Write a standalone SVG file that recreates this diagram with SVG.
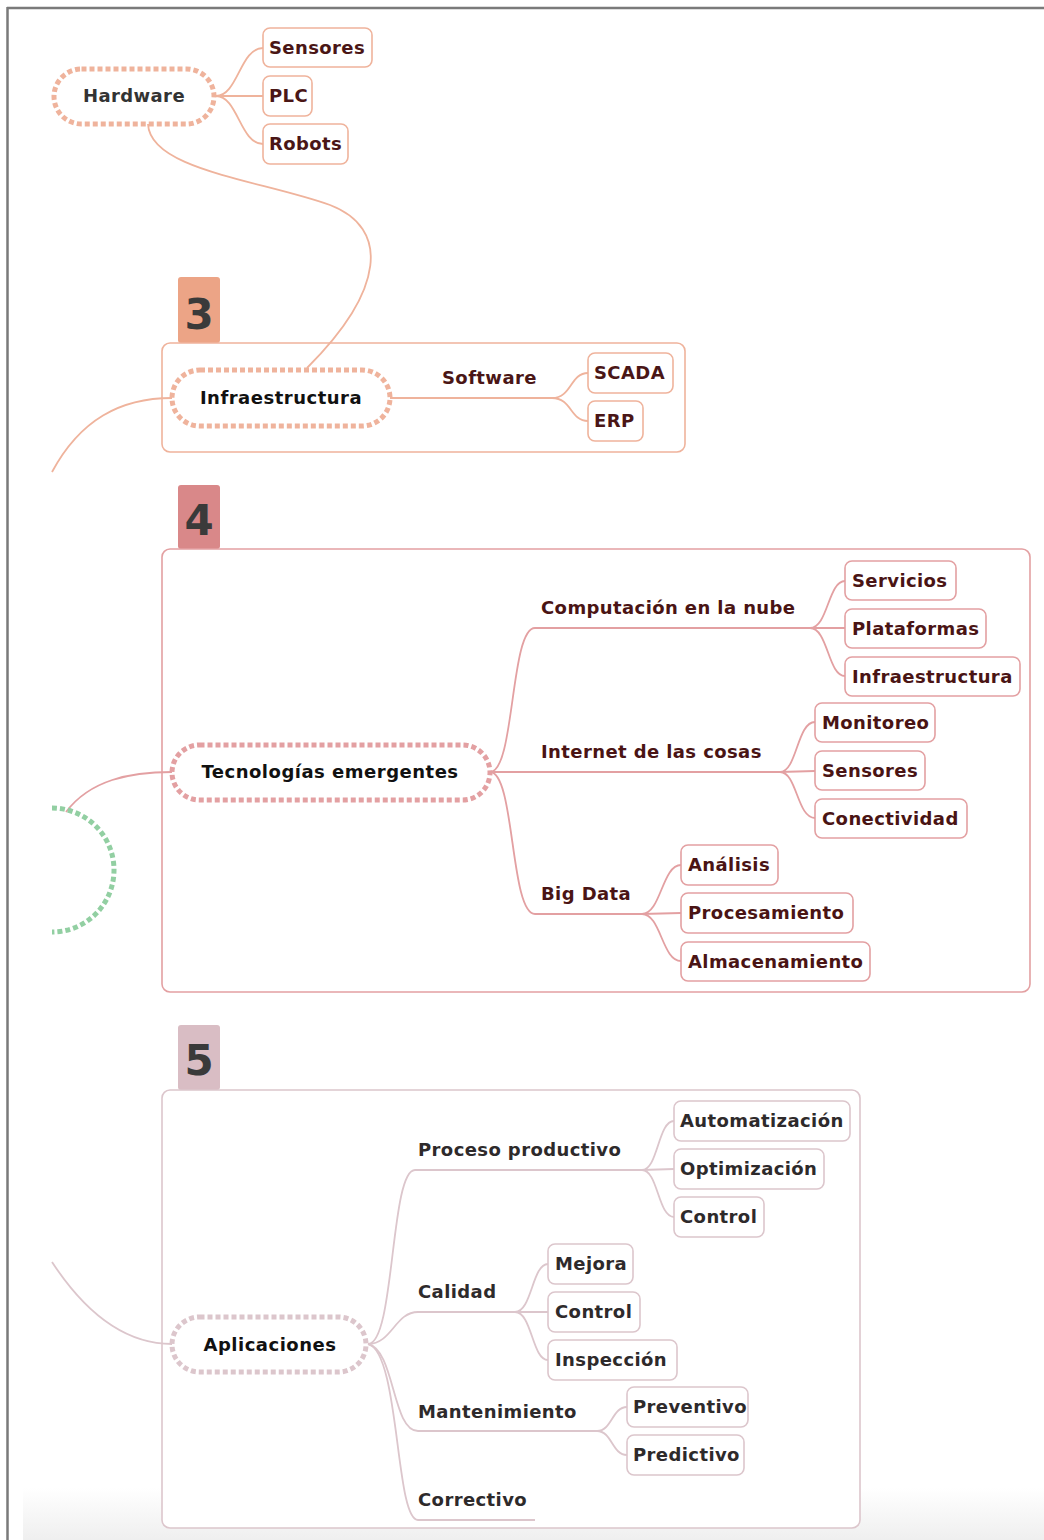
<svg xmlns="http://www.w3.org/2000/svg" width="1044" height="1540" viewBox="0 0 1044 1540">
  <defs>
    <linearGradient id="floor" x1="0" y1="0" x2="0" y2="1">
      <stop offset="0" stop-color="#ffffff"/>
      <stop offset="1" stop-color="#efefef"/>
    </linearGradient>
    <style>
      text { font-family: "DejaVu Sans", Verdana, sans-serif; font-weight: bold; font-size: 18px; letter-spacing: 0.4px; }
      .num { font-size: 42px; fill: #3a3a3a; letter-spacing: 0; }
      .hub { fill: #111111; letter-spacing: 0.5px; }
      .s3 text { fill: #4a1616; }
      .s4 text { fill: #4a1414; }
      .s5 text { fill: #2e2a2b; }
      .pill { fill: #ffffff; stroke-width: 5; stroke-dasharray: 5 3; }
      .leaf { fill: #ffffff; stroke-width: 1.6; }
      .frame { fill: #ffffff; stroke-width: 1.6; }
      .c3 { stroke: #efb39c; }
      .c4 { stroke: #e3a0a2; }
      .c5 { stroke: #dcc6cc; }
      #links path { fill: none; stroke-width: 1.8; }
    </style>
  </defs>

  <!-- page -->
  <rect x="0" y="0" width="1044" height="1540" fill="#ffffff"/>
  <rect x="23" y="1488" width="1021" height="52" fill="url(#floor)"/>
  <line x1="7" y1="8" x2="1044" y2="8" stroke="#7a7a7a" stroke-width="2.5"/>
  <line x1="7.5" y1="7" x2="7.5" y2="1540" stroke="#7a7a7a" stroke-width="2.5"/>

  <!-- section frames and number tabs -->
  <g id="section-3">
    <rect x="178" y="277" width="42" height="66" rx="3" fill="#eca486"/>
    <text class="num" x="199" y="329" text-anchor="middle">3</text>
    <rect class="frame c3" x="162" y="343" width="523" height="109" rx="8"/>
  </g>
  <g id="section-4">
    <rect x="178" y="485" width="42" height="64" rx="3" fill="#d98889"/>
    <text class="num" x="199" y="535" text-anchor="middle">4</text>
    <rect class="frame c4" x="162" y="549" width="868" height="443" rx="8"/>
  </g>
  <g id="section-5">
    <rect x="178" y="1025" width="42" height="65" rx="3" fill="#d9bdc4"/>
    <text class="num" x="199" y="1075" text-anchor="middle">5</text>
    <rect class="frame c5" x="162" y="1090" width="698" height="438" rx="8"/>
  </g>

  <!-- connectors -->
  <g id="links">
    <!-- Hardware -->
    <path class="c3" d="M216,96 C238,96 240,48 263,48"/>
    <path class="c3" d="M216,96 L263,96"/>
    <path class="c3" d="M216,96 C238,96 240,144 263,144"/>
    <path class="c3" d="M148,124 C150,170 260,180 330,205 C390,228 385,290 307,368"/>
    <!-- Infraestructura -->
    <path class="c3" d="M52,472 C80,420 120,398 172,398"/>
    <path class="c3" d="M390,398 L552,398"/>
    <path class="c3" d="M552,398 C572,398 570,373 588,373"/>
    <path class="c3" d="M552,398 C572,398 570,421 588,421"/>
    <!-- Tecnologías emergentes -->
    <path class="c4" d="M66,812 C90,780 130,772 172,772"/>
    <path class="c4" d="M490,772 C515,772 510,628 535,628 L810,628"/>
    <path class="c4" d="M490,772 L780,772"/>
    <path class="c4" d="M490,772 C515,772 510,914 535,914 L642,914"/>
    <path class="c4" d="M810,628 C828,628 828,581 845,581"/>
    <path class="c4" d="M810,628 L845,628"/>
    <path class="c4" d="M810,628 C828,628 828,676 845,676"/>
    <path class="c4" d="M780,772 C797,772 797,722 815,722"/>
    <path class="c4" d="M780,772 L815,771"/>
    <path class="c4" d="M780,772 C797,772 797,818 815,818"/>
    <path class="c4" d="M642,914 C661,914 662,865 681,865"/>
    <path class="c4" d="M642,914 L681,913"/>
    <path class="c4" d="M642,914 C661,914 662,961 681,961"/>
    <!-- Aplicaciones -->
    <path class="c5" d="M52,1262 C90,1320 130,1344 172,1344"/>
    <path class="c5" d="M368,1344 C395,1344 390,1170 415,1170 L642,1170"/>
    <path class="c5" d="M368,1344 C392,1344 395,1312 418,1312 L515,1312"/>
    <path class="c5" d="M368,1344 C395,1350 392,1431 418,1431 L597,1431"/>
    <path class="c5" d="M368,1344 C400,1352 395,1520 418,1520 L535,1520"/>
    <path class="c5" d="M642,1170 C658,1170 658,1121 674,1121"/>
    <path class="c5" d="M642,1170 L674,1169"/>
    <path class="c5" d="M642,1170 C658,1170 658,1217 674,1217"/>
    <path class="c5" d="M515,1312 C532,1312 532,1264 548,1264"/>
    <path class="c5" d="M515,1312 L548,1312"/>
    <path class="c5" d="M515,1312 C532,1312 532,1360 548,1360"/>
    <path class="c5" d="M597,1431 C612,1431 612,1407 627,1407"/>
    <path class="c5" d="M597,1431 C612,1431 612,1455 627,1455"/>
  </g>

  <!-- green hub, partly off the page edge -->
  <g id="hub-green">
    <path d="M52,808 A62,62 0 0 1 52,932" fill="none" stroke="#92cfa2" stroke-width="5" stroke-dasharray="5 3"/>
  </g>

  <!-- Hardware -->
  <g id="hardware">
    <rect class="pill c3" x="54" y="69" width="160" height="55" rx="27.5"/>
    <text x="134" y="102" text-anchor="middle" fill="#333333">Hardware</text>
  </g>
  <g id="sensores-hw" class="s3">
    <rect class="leaf c3" x="263" y="28" width="109" height="39" rx="7"/>
    <text x="269" y="54">Sensores</text>
  </g>
  <g id="plc" class="s3">
    <rect class="leaf c3" x="263" y="76" width="49" height="40" rx="7"/>
    <text x="269" y="102">PLC</text>
  </g>
  <g id="robots" class="s3">
    <rect class="leaf c3" x="263" y="124" width="85" height="40" rx="7"/>
    <text x="269" y="150">Robots</text>
  </g>

  <!-- Infraestructura -->
  <g id="infraestructura">
    <rect class="pill c3" x="172" y="370" width="218" height="56" rx="28"/>
    <text class="hub" x="281" y="404" text-anchor="middle">Infraestructura</text>
  </g>
  <g id="software" class="s3">
    <text x="442" y="384">Software</text>
  </g>
  <g id="scada" class="s3">
    <rect class="leaf c3" x="588" y="353" width="85" height="40" rx="7"/>
    <text x="594" y="379">SCADA</text>
  </g>
  <g id="erp" class="s3">
    <rect class="leaf c3" x="588" y="401" width="55" height="40" rx="7"/>
    <text x="594" y="427">ERP</text>
  </g>

  <!-- Tecnologías emergentes -->
  <g id="tecnologias">
    <rect class="pill c4" x="172" y="745" width="318" height="55" rx="27.5"/>
    <text class="hub" x="330" y="778" text-anchor="middle">Tecnologías emergentes</text>
  </g>
  <g id="nube" class="s4"><text x="541" y="614">Computación en la nube</text></g>
  <g id="iot" class="s4"><text x="541" y="758">Internet de las cosas</text></g>
  <g id="bigdata" class="s4"><text x="541" y="900">Big Data</text></g>
  <g id="servicios" class="s4">
    <rect class="leaf c4" x="845" y="561" width="111" height="39" rx="7"/>
    <text x="852" y="587">Servicios</text>
  </g>
  <g id="plataformas" class="s4">
    <rect class="leaf c4" x="845" y="609" width="141" height="39" rx="7"/>
    <text x="852" y="635">Plataformas</text>
  </g>
  <g id="infra-nube" class="s4">
    <rect class="leaf c4" x="845" y="657" width="175" height="39" rx="7"/>
    <text x="852" y="683">Infraestructura</text>
  </g>
  <g id="monitoreo" class="s4">
    <rect class="leaf c4" x="815" y="703" width="120" height="39" rx="7"/>
    <text x="822" y="729">Monitoreo</text>
  </g>
  <g id="sensores-iot" class="s4">
    <rect class="leaf c4" x="815" y="751" width="110" height="39" rx="7"/>
    <text x="822" y="777">Sensores</text>
  </g>
  <g id="conectividad" class="s4">
    <rect class="leaf c4" x="815" y="799" width="152" height="39" rx="7"/>
    <text x="822" y="825">Conectividad</text>
  </g>
  <g id="analisis" class="s4">
    <rect class="leaf c4" x="681" y="845" width="97" height="40" rx="7"/>
    <text x="688" y="871">Análisis</text>
  </g>
  <g id="procesamiento" class="s4">
    <rect class="leaf c4" x="681" y="893" width="172" height="40" rx="7"/>
    <text x="688" y="919">Procesamiento</text>
  </g>
  <g id="almacenamiento" class="s4">
    <rect class="leaf c4" x="681" y="942" width="189" height="39" rx="7"/>
    <text x="688" y="968">Almacenamiento</text>
  </g>

  <!-- Aplicaciones -->
  <g id="aplicaciones">
    <rect class="pill c5" x="172" y="1317" width="194" height="55" rx="27.5"/>
    <text class="hub" x="270" y="1351" text-anchor="middle">Aplicaciones</text>
  </g>
  <g id="proceso" class="s5"><text x="418" y="1156">Proceso productivo</text></g>
  <g id="calidad" class="s5"><text x="418" y="1298">Calidad</text></g>
  <g id="mantenimiento" class="s5"><text x="418" y="1418">Mantenimiento</text></g>
  <g id="correctivo" class="s5"><text x="418" y="1506">Correctivo</text></g>
  <g id="automatizacion" class="s5">
    <rect class="leaf c5" x="674" y="1101" width="176" height="40" rx="7"/>
    <text x="680" y="1127">Automatización</text>
  </g>
  <g id="optimizacion" class="s5">
    <rect class="leaf c5" x="674" y="1149" width="150" height="40" rx="7"/>
    <text x="680" y="1175">Optimización</text>
  </g>
  <g id="control-proceso" class="s5">
    <rect class="leaf c5" x="674" y="1197" width="90" height="40" rx="7"/>
    <text x="680" y="1223">Control</text>
  </g>
  <g id="mejora" class="s5">
    <rect class="leaf c5" x="548" y="1244" width="85" height="40" rx="7"/>
    <text x="555" y="1270">Mejora</text>
  </g>
  <g id="control-calidad" class="s5">
    <rect class="leaf c5" x="548" y="1292" width="92" height="40" rx="7"/>
    <text x="555" y="1318">Control</text>
  </g>
  <g id="inspeccion" class="s5">
    <rect class="leaf c5" x="548" y="1340" width="129" height="40" rx="7"/>
    <text x="555" y="1366">Inspección</text>
  </g>
  <g id="preventivo" class="s5">
    <rect class="leaf c5" x="627" y="1387" width="121" height="40" rx="7"/>
    <text x="633" y="1413">Preventivo</text>
  </g>
  <g id="predictivo" class="s5">
    <rect class="leaf c5" x="627" y="1435" width="117" height="40" rx="7"/>
    <text x="633" y="1461">Predictivo</text>
  </g>
</svg>
